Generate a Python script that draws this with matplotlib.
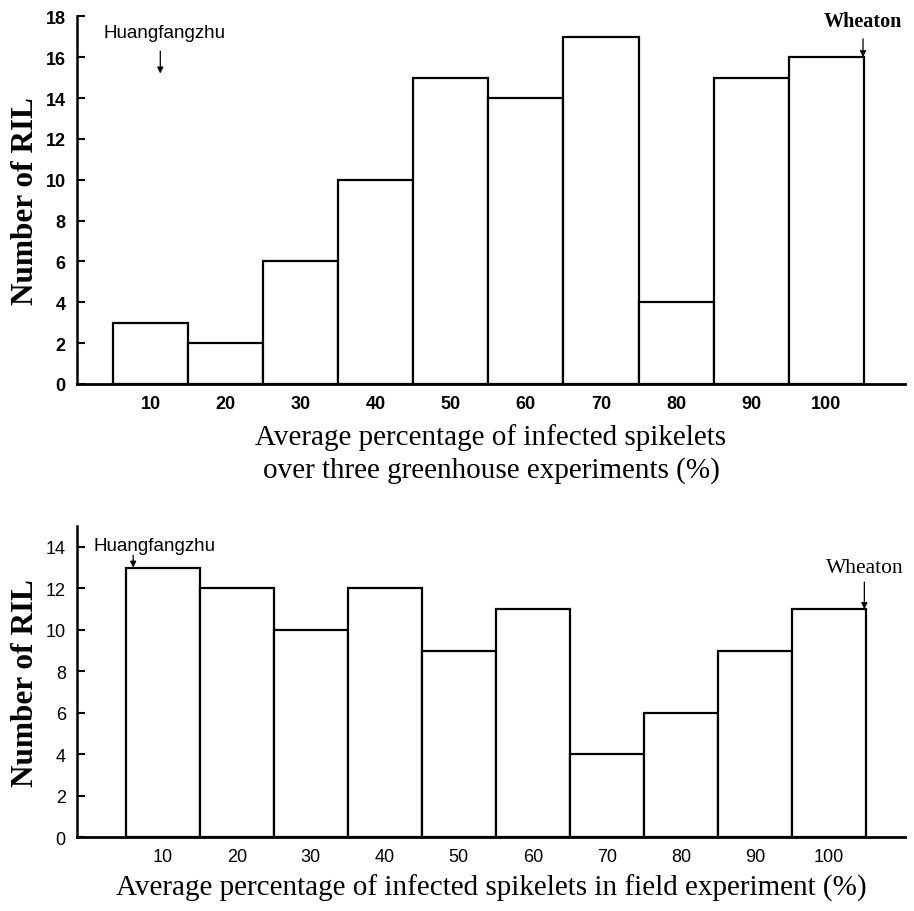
import matplotlib.pyplot as plt

# bin centres (%), shared by both panels
bins = [10, 20, 30, 40, 50, 60, 70, 80, 90, 100]
tick_labels = ["10", "20", "30", "40", "50", "60", "70", "80", "90", "100"]

# number of RILs per bin
greenhouse_counts = [3, 2, 6, 10, 15, 14, 17, 4, 15, 16]
field_counts = [13, 12, 10, 12, 9, 11, 4, 6, 9, 11]

greenhouse_label = "Average percentage of infected spikelets\nover three greenhouse experiments (%)"
field_label = "Average percentage of infected spikelets in field experiment (%)"

SERIF = "Liberation Serif"
SANS = "Liberation Sans"


def style_axes(ax, ymax, yticks, bold_ticks):
    ax.set_ylim(0, ymax)
    ax.set_yticks(yticks)
    ax.set_xticks(bins)
    ax.set_xticklabels(tick_labels)
    for s in ["top", "right"]:
        ax.spines[s].set_visible(False)
    ax.spines["left"].set_linewidth(1.8)
    ax.spines["bottom"].set_linewidth(2.0)
    ax.tick_params(axis="y", direction="in", length=6, width=1.5, pad=8)
    ax.tick_params(axis="x", length=0, pad=8)
    weight = "bold" if bold_ticks else "normal"
    for lab in ax.get_xticklabels() + ax.get_yticklabels():
        lab.set_fontfamily(SANS)
        lab.set_fontsize(13)
        lab.set_fontweight(weight)
    ax.set_ylabel("Number of RIL", fontfamily=SERIF, fontweight="bold", fontsize=22.5, labelpad=4)


def marker(ax, text, x_text, x, y_text, y_tip, y_tail, family, size, weight="normal"):
    ax.annotate("", xy=(x, y_tip), xytext=(x, y_tail),
                arrowprops=dict(arrowstyle="-|>", color="black", lw=0.9,
                                mutation_scale=9, shrinkA=0, shrinkB=0))
    ax.text(x_text, y_text, text, fontfamily=family, fontsize=size, fontweight=weight,
            ha="center", va="bottom")


fig = plt.figure(figsize=(9.14, 9.12), dpi=100)

# top panel: greenhouse
ax1 = fig.add_axes([0.0842, 0.578, 0.906, 0.403])
ax1.bar(bins, greenhouse_counts, width=10, facecolor="white", edgecolor="black", linewidth=1.6)
ax1.set_xlim(0.2, 110.5)
style_axes(ax1, 18, range(0, 19, 2), True)
ax1.set_xlabel(greenhouse_label, fontfamily=SERIF, fontsize=21, labelpad=8, linespacing=1.3)
marker(ax1, "Huangfangzhu", 11.9, 11.3, 16.8, 15.2, 16.3, SANS, 13.5)
marker(ax1, "Wheaton", 104.9, 104.9, 17.3, 16.0, 16.9, SERIF, 14.5, "bold")

# bottom panel: field
ax2 = fig.add_axes([0.0842, 0.081, 0.906, 0.341])
ax2.bar(bins, field_counts, width=10, facecolor="white", edgecolor="black", linewidth=1.6)
ax2.set_xlim(-1.6, 110.3)
style_axes(ax2, 15, range(0, 15, 2), False)
ax2.set_xlabel(field_label, fontfamily=SERIF, fontsize=21, labelpad=6)
marker(ax2, "Huangfangzhu", 8.9, 6.0, 13.65, 13.0, 13.6, SANS, 13.5)
marker(ax2, "Wheaton", 104.8, 104.8, 12.55, 11.0, 12.3, SERIF, 15.5)

fig.savefig("out.png", dpi=100)
